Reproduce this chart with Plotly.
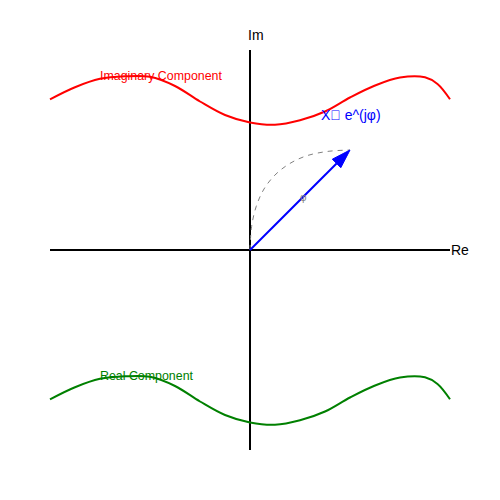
import numpy as np
import plotly.graph_objects as go

# 1 unit = 100 px, origin at the centre of the picture
axis_x = [-2, 2]
axis_y = [-2, 2]

curve_x = [-2, -1.75, -1.5, -1.25, -1, -0.75, -0.5, -0.25, 0,
           0.25, 0.5, 0.75, 1, 1.25, 1.5, 1.75, 1.875, 2]
imag_y = [1.507, 1.628, 1.712, 1.737, 1.732, 1.64, 1.485, 1.35, 1.275,
          1.252, 1.297, 1.385, 1.525, 1.645, 1.725, 1.727, 1.66, 1.507]
real_y = [-1.493, -1.372, -1.288, -1.263, -1.268, -1.36, -1.515, -1.65, -1.725,
          -1.748, -1.703, -1.615, -1.475, -1.355, -1.275, -1.273, -1.34, -1.493]

# phasor and the dashed arc swept by it
vec = (1.0, 1.0)
arc_x = [0, 0.016, 0.063, 0.14, 0.25, 0.39, 0.56, 0.77, 1.0]
arc_y = [0, 0.234, 0.438, 0.61, 0.75, 0.86, 0.94, 0.985, 1.0]

fig = go.Figure()

# axes
fig.add_trace(go.Scatter(x=axis_x, y=[0, 0], mode="lines",
                         line=dict(color="black", width=2), hoverinfo="skip"))
fig.add_trace(go.Scatter(x=[0, 0], y=axis_y, mode="lines",
                         line=dict(color="black", width=2), hoverinfo="skip"))

fig.add_trace(go.Scatter(x=curve_x, y=imag_y, mode="lines", line_shape="spline",
                         line=dict(color="red", width=2)))
fig.add_trace(go.Scatter(x=curve_x, y=real_y, mode="lines", line_shape="spline",
                         line=dict(color="green", width=2)))

fig.add_trace(go.Scatter(x=arc_x, y=arc_y, mode="lines", line_shape="spline",
                         line=dict(color="gray", width=1, dash="5px,5px")))

# arrow: shaft plus a filled head built from the vector end
head_len, head_half = 0.19, 0.06
tip = np.array(vec)
d = tip / np.linalg.norm(tip)
p = np.array([-d[1], d[0]])
base = tip - head_len * d
fig.add_trace(go.Scatter(x=[0, base[0]], y=[0, base[1]], mode="lines",
                         line=dict(color="blue", width=2)))
head = [tip, base + head_half * p, base - head_half * p, tip]
fig.add_trace(go.Scatter(x=[h[0] for h in head], y=[h[1] for h in head],
                         mode="lines", fill="toself", fillcolor="blue",
                         line=dict(color="blue", width=1)))

font = "Liberation Sans, Arial, sans-serif"
labels = [
    ("Im", -0.04, 2.15, 14, "black"),
    ("Re", 1.99, 0, 14, "black"),
    ("Imaginary Component", -1.52, 1.745, 12.4, "red"),
    ("Real Component", -1.52, -1.255, 12.4, "green"),
    ("X\u20d7 e^(jφ)", 0.69, 1.35, 14, "blue"),
]
for txt, x, y, size, col in labels:
    fig.add_annotation(x=x, y=y, text=txt, showarrow=False, xanchor="left",
                       yanchor="middle", font=dict(family=font, size=size, color=col))
fig.add_annotation(x=0.53, y=0.53, text="φ", showarrow=False,
                   font=dict(family=font, size=10, color="gray"))

# page body adds an 8px offset, so the figure is 492px and the ranges shifted
fig.update_layout(
    width=492, height=492, showlegend=False,
    margin=dict(l=0, r=0, t=0, b=0),
    paper_bgcolor="white", plot_bgcolor="white",
    xaxis=dict(range=[-2.42, 2.5], visible=False, fixedrange=True),
    yaxis=dict(range=[-2.5, 2.42], visible=False, fixedrange=True),
)

fig.write_html("out.html")
